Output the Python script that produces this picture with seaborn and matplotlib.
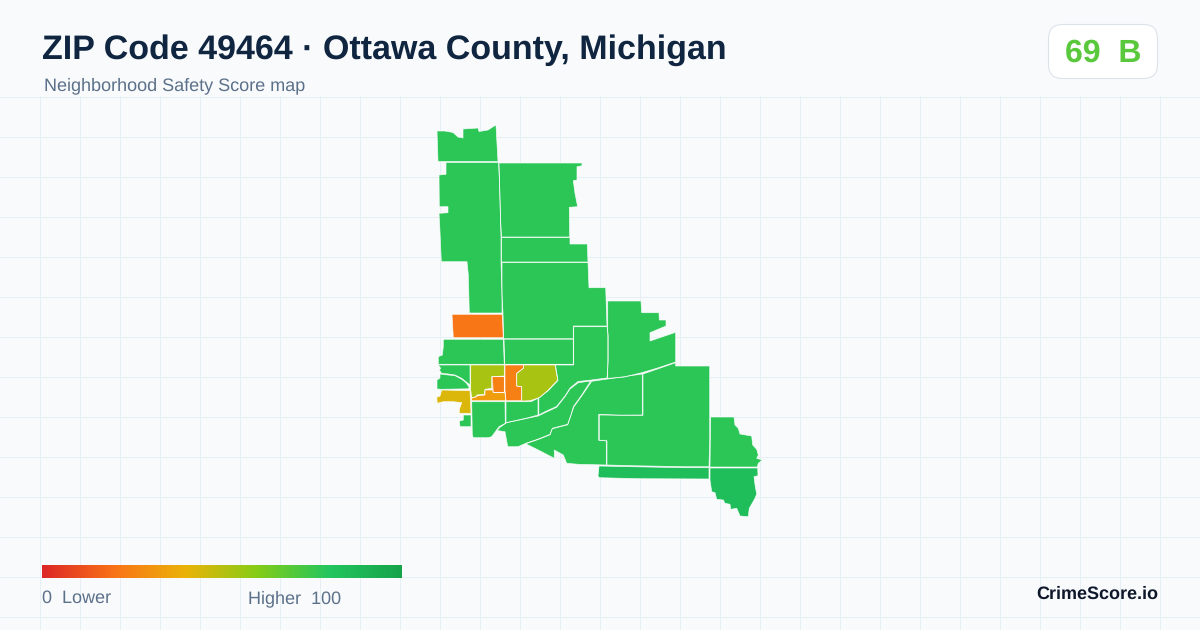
import numpy as np
import seaborn as sns
import matplotlib
matplotlib.use("Agg")
import matplotlib.pyplot as plt
from matplotlib.collections import PolyCollection
from matplotlib.colors import Normalize
from matplotlib.patches import FancyBboxPatch

TITLE = "ZIP Code 49464 · Ottawa County, Michigan"
SUBTITLE = "Neighborhood Safety Score map"
BADGE = "69  B"
LOW_LABEL = "0  Lower"
HIGH_LABEL = "Higher  100"
BRAND = "CrimeScore.io"
SCALE_COLORS = ["#dc2626", "#f97316", "#eab308", "#84cc16", "#22c55e", "#16a34a"]

# tract outlines in map units, with the safety score of each tract
north_tip = [(437,131),(445,131),(453,132.5),(458,137),(463,138),(463,129),(478,128),(479,131.5),(488,130),(495,125.5),(496,125.5),(498,161.5),(438,161.5)]
west_strip = [(446,162.5),(498.5,162.5),(499.5,182),(500.5,218),(501,237),(501,262),(502,295),(502,313),(469.3,313),(468.3,275),(467,261.7),(441.3,261.7),(440,231.7),(439,213.3),(448,212.7),(448,206.7),(439.3,206.7),(439,175),(446,174.3)]
north_east = [(499,163),(582,163),(582,165.7),(577,166.7),(577,180),(573.3,180.7),(575,193.3),(577.7,206.7),(569.3,207.3),(569.7,237),(501.5,237),(500.5,218),(499.5,182)]
north_band = [(501.5,237.5),(570,237.5),(570,244),(587.3,244),(588,262),(501.5,262)]
upper_mid = [(502,262.5),(588,262.5),(589,287.7),(605.7,287.7),(607,326),(573.3,326),(573.3,338.7),(503.7,338.7),(503,313),(502,295)]
north_east_arm = [(607.7,301),(641,301),(641.7,312.7),(659,312.7),(659.3,320),(666,320),(666,326),(650,332.7),(650,341),(675.7,332.3),(675.7,362),(656.7,368.3),(641.7,372.7),(623.3,377.3),(607.7,378.3)]
west_orange = [(452,314.3),(502.3,314.3),(503.3,337.7),(453.3,337.7)]
west_row = [(443.3,339.3),(503.3,339.3),(504.3,364.3),(438.3,364.3),(438.3,356.7),(442.3,355),(443.3,346.7)]
mid_row = [(504,339.3),(573.3,339.3),(573.3,364.3),(504.7,364.3)]
east_center = [(573.7,326.7),(607,326.7),(608.5,337),(608.5,358),(607,378),(591.5,380),(578,381.5),(570,388),(565,396),(556.5,406.5),(545,411.7),(538.8,415),(538.8,398),(548.5,390.5),(558,380.5),(555.5,365),(573.7,365)]
lime_east = [(523.3,365),(555,365),(557.7,380),(548.3,390),(540,397.3),(530,400.7),(521.7,401),(521.7,386.7),(516.7,386),(516.7,373.3),(523.3,368.3)]
orange_strip = [(505,365),(523.3,365),(523.3,368.3),(516.7,373.3),(516.7,386),(521.7,386.7),(521.7,400.7),(506,400.7),(505,390)]
lime_west = [(470.7,365),(504.3,365),(504.3,376),(491.7,376.7),(491.7,388.3),(485,389.3),(484.3,394.3),(476.7,395),(476,397.3),(471.7,397.3),(470.7,390)]
orange_box = [(492.3,376.7),(504.3,376.7),(504.3,392.3),(493.3,392.3)]
amber_mid = [(471.7,398.3),(476.7,396),(485,395),(485,390),(492.7,390),(493.3,392.7),(505,392.7),(505.5,400.7),(471.7,400.7)]
amber_west = [(441.7,390),(470,390.7),(471,413.3),(459.3,413.3),(459.3,409.3),(461.7,402.7),(453.3,401.7),(443.3,401.7),(437.3,403.3),(436.7,397.3),(440,396)]
shore_upper = [(438.3,365),(470,365),(470,385),(466,381.7),(461.7,378.3),(455,375),(448.3,374),(441.7,373.3),(439.3,370),(440.7,368.3)]
shore_lower = [(440,374),(448.3,375),(455,375.7),(461.7,379.3),(466,382.7),(469.3,387.3),(468.3,388.8),(441.7,389.3),(437,389),(437,380),(440,378)]
shore_small = [(459.3,421),(463.3,420),(463.3,415),(471,415),(471,426.7),(460,426.7)]
south_west = [(471.7,401.7),(505,401.7),(505.3,423.3),(499,426.7),(491.7,436.7),(488.3,437.7),(473.3,437.7),(472.3,435)]
south_mid = [(506,401.7),(531,401.7),(538,398.3),(538,415),(528.3,417.7),(506,422.7)]
river_band = [(497,430.5),(500,427.3),(506.7,422.7),(538.3,416),(545,412.7),(556.7,407.3),(565,396.7),(570,389),(578.3,382.7),(590.7,381),(581.7,395),(573.3,406.7),(571,415),(567.7,424.3),(552.3,428.3),(550,434.3),(538.3,439),(525.7,443.3),(518,446.7),(507.7,446.7),(505,431.7)]
south_river = [(591.7,381.3),(642.3,374),(642.3,415),(621,415.3),(598.7,414.3),(598.7,440.3),(606.3,440.3),(606.3,465),(578.3,464.3),(566.7,463.3),(563.3,455),(554.3,450),(554.3,458.3),(538.3,450),(525.7,443.8),(538.3,439.5),(550,434.8),(552.3,428.8),(567.7,424.8),(571,415),(573.8,407),(582.2,395.3)]
big_south = [(643,374),(675.7,362.7),(675.7,366),(709.7,366),(709.7,441.7),(709,466.7),(684.3,466.7),(631.7,465.7),(607,465),(607,441),(599.3,440.3),(599.3,415),(643,415.3)]
south_strip = [(599,466),(631.7,466.7),(684.3,467.7),(709,467.7),(709,479),(638.3,478.7),(599.3,477.7),(598,476)]
east_upper = [(710.7,417),(734,417),(735,425),(738.3,428.3),(740,434),(751.7,436),(752.7,445),(756.7,449.3),(758.3,455),(756.7,458.3),(762.3,460),(758.3,463.3),(757.3,467),(710,467),(710.3,441.7)]
east_lower = [(710,468),(757.7,468),(758,475.7),(754,476.7),(755.3,486.7),(756.7,494),(755,498.3),(749.3,508.3),(748.3,516.7),(740,516),(736.7,508.3),(730.7,509.3),(730,504.3),(725,503.3),(723.3,500),(716.7,499.3),(715,492.7),(711.7,491.7),(710,480)]

tracts = [north_tip, west_strip, north_east, north_band, upper_mid, north_east_arm, west_orange, west_row, mid_row,
          east_center, lime_east, orange_strip, lime_west, orange_box, amber_mid, amber_west, shore_upper, shore_lower,
          shore_small, south_west, south_mid, river_band, south_river, big_south, south_strip, east_upper, east_lower]
scores = [78, 78, 78, 78, 78, 78, 21, 78, 78,
          78, 53, 24, 53, 24, 33, 43, 78, 78,
          78, 78, 78, 78, 78, 78, 84, 78, 84]
gradient = [list(np.linspace(0, 100, 360))]

BG = "#f8fafc"
GRID = "#e6eff3"
INK = "#0f2540"
MUTED = "#5b7089"

sns.set_theme(style="white")
plt.rcParams["font.family"] = ["Liberation Sans", "DejaVu Sans"]
plt.rcParams["text.hinting"] = "no_hinting"
cmap = sns.blend_palette(SCALE_COLORS, as_cmap=True)

W, H = 1200, 630
fig = plt.figure(figsize=(W / 100, H / 100), dpi=100, facecolor=BG)

def px_axes(x0, y0, x1, y1):
    return fig.add_axes([x0 / W, 1 - y1 / H, (x1 - x0) / W, (y1 - y0) / H])

ax = px_axes(0, 96, W, H)
ax.set_facecolor(BG)
ax.set_xlim(0, W)
ax.set_ylim(H, 96)
ax.set_xticks(np.arange(40, W, 40))
ax.set_yticks(np.arange(97, H, 40))
ax.tick_params(length=0, labelbottom=False, labelleft=False)
ax.grid(True, color=GRID, linewidth=0.72)
ax.set_axisbelow(True)
sns.despine(ax=ax, left=True, bottom=True, right=True, top=True)

tract_polys = PolyCollection(tracts, array=np.array(scores, float), cmap=cmap, norm=Normalize(0, 100),
                             edgecolors="none", zorder=3)
ax.add_collection(tract_polys)
tract_edges = PolyCollection(tracts, facecolors="none", edgecolors=(1, 1, 1, 0.85), linewidths=0.5, zorder=4)
ax.add_collection(tract_edges)

bar = px_axes(42, 565, 402, 578)
sns.heatmap(gradient, ax=bar, cmap=cmap, vmin=0, vmax=100, cbar=False, xticklabels=False, yticklabels=False, rasterized=True)

overlay = fig.add_axes([0, 0, 1, 1])
overlay.set_xlim(0, W)
overlay.set_ylim(H, 0)
overlay.axis("off")
overlay.patch.set_alpha(0)

overlay.text(41.5, 59, TITLE, fontsize=24.48, fontweight="bold", color=INK, va="baseline", ha="left")
overlay.text(44, 90, SUBTITLE, fontsize=12.96, color=MUTED, va="baseline", ha="left")
overlay.add_patch(FancyBboxPatch((1060.5, 36.5), 85, 30, boxstyle="round,pad=12,rounding_size=14",
                                 facecolor="white", edgecolor="#dde3ec", linewidth=0.8))
overlay.text(1103, 62, BADGE, fontsize=23.04, fontweight="bold", color="#5ac83c", va="baseline", ha="center")
overlay.text(42, 603, LOW_LABEL, fontsize=12.96, color=MUTED, va="baseline", ha="left")
overlay.text(341.5, 603, HIGH_LABEL, fontsize=12.96, color=MUTED, va="baseline", ha="right")
overlay.text(1158, 599, BRAND, fontsize=12.96, fontweight="bold", color="#0f172a", va="baseline", ha="right")

fig.savefig("out.png", dpi=100, facecolor=BG)
